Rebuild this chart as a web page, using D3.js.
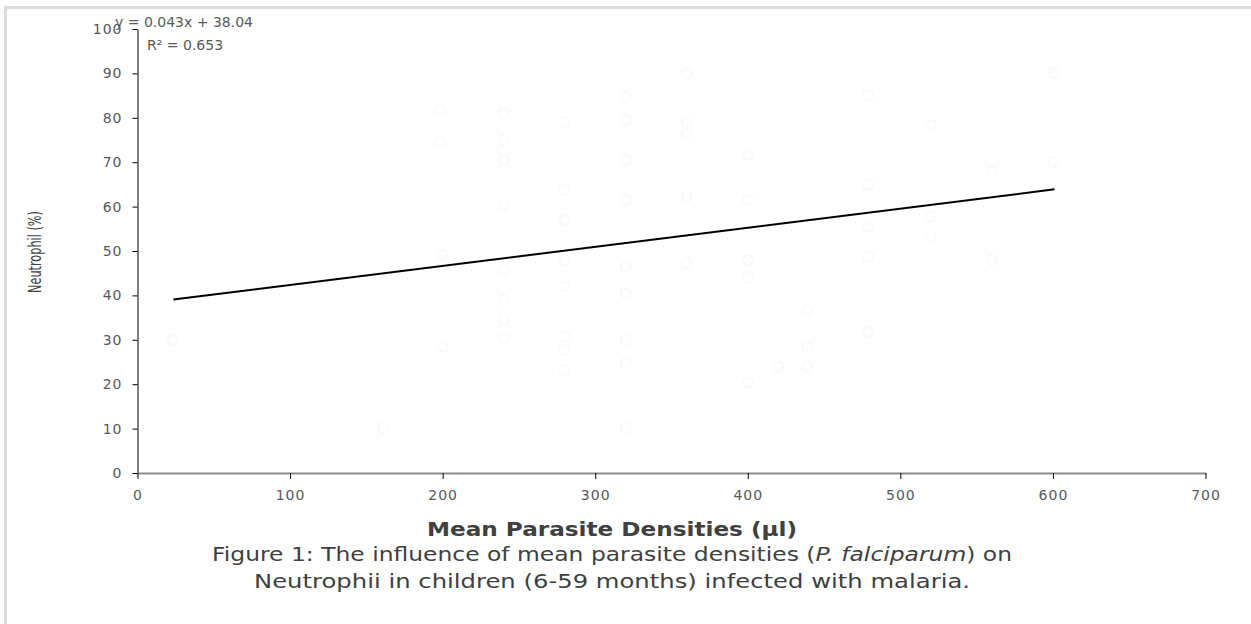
<!DOCTYPE html>
<html>
<head>
<meta charset="utf-8">
<title>Neutrophil vs parasite density</title>
<style>
    body { margin: 0; background: #fff; }
    svg { display: block; }
</style>
<script src="https://d3js.org/d3.v7.min.js"></script>
</head>
<body>
<script>
// scatter points (very faint in the original)
const densities = [23, 161, 198, 198, 200, 200, 240, 240, 240, 240, 240, 240, 240, 240,
    280, 280, 280, 280, 280, 280, 280, 280, 320, 320, 320, 320, 320, 320, 320, 320, 320,
    360, 360, 360, 360, 360, 400, 400, 400, 400, 400, 420, 439, 439, 439,
    479, 479, 479, 479, 479, 520, 520, 520, 560, 560, 600, 600];
const neutrophil = [30.0, 10.1, 81.8, 74.6, 49.1, 28.4, 81.1, 75.0, 70.5, 60.4, 45.7, 39.0, 34.5, 30.4,
    79.1, 63.7, 57.0, 48.0, 42.0, 30.7, 27.7, 23.2, 84.8, 79.5, 70.5, 61.5, 46.5, 40.5, 30.0, 24.8, 10.1,
    90.0, 78.8, 76.6, 62.2, 47.2, 71.6, 61.5, 48.0, 43.9, 20.3, 23.9, 36.7, 28.4, 23.9,
    85.1, 64.9, 55.5, 48.7, 31.8, 78.4, 57.7, 53.2, 67.9, 48.0, 90.1, 70.1];

const slope = 0.043, intercept = 38.04;
const trendRange = [23.5, 601];
const xTicks = [0, 100, 200, 300, 400, 500, 600, 700];
const yTicks = [0, 10, 20, 30, 40, 50, 60, 70, 80, 90, 100];

const W = 1251, H = 624;
const svg = d3.select('body').append('svg').attr('width', W).attr('height', H);

// light frame of the figure
svg.append('rect').attr('x', 5.5).attr('y', 7.5).attr('width', W + 10).attr('height', H + 10)
    .attr('fill', 'none').attr('stroke', '#dcdcdc').attr('stroke-width', 3);

const x = d3.scaleLinear().domain([0, 700]).range([137.5, 1205.5]);
const y = d3.scaleLinear().domain([0, 100]).range([473, 29]);

// points
svg.append('g').selectAll('circle')
    .data(densities.map((d, i) => [d, neutrophil[i]]))
    .join('circle')
    .attr('cx', d => x(d[0]))
    .attr('cy', d => y(d[1]))
    .attr('r', 5)
    .attr('fill', 'none')
    .attr('stroke', '#f8f8f8')
    .attr('stroke-width', 1.5);

function styleTicks(g) {
    g.selectAll('.tick text')
        .attr('font-family', '"DejaVu Sans", sans-serif')
        .attr('font-size', 14)
        .attr('letter-spacing', 1)
        .attr('fill', '#595959');
    g.selectAll('.tick line').attr('stroke', '#000');
}

// y axis
const yAxis = svg.append('g').attr('transform', 'translate(137.5,0)')
    .call(d3.axisLeft(y).tickValues(yTicks).tickSize(5).tickPadding(10).tickSizeOuter(0))
    .call(styleTicks);
yAxis.select('.domain').attr('stroke', '#000');

// x axis
const xAxis = svg.append('g').attr('transform', 'translate(0,473)')
    .call(d3.axisBottom(x).tickValues(xTicks).tickSize(6).tickPadding(11).tickSizeOuter(0))
    .call(styleTicks);
xAxis.select('.domain').attr('stroke', '#8c8c8c').attr('stroke-width', 2);

// trendline
svg.append('line')
    .attr('x1', x(trendRange[0])).attr('y1', y(slope * trendRange[0] + intercept))
    .attr('x2', x(trendRange[1])).attr('y2', y(slope * trendRange[1] + intercept))
    .attr('stroke', '#000').attr('stroke-width', 2);

// equation (overlaps the 100 label, as in the original)
svg.append('text').attr('x', 115).attr('y', 27)
    .attr('font-family', '"DejaVu Sans", sans-serif').attr('font-size', 14).attr('fill', '#595959')
    .text('y = 0.043x + 38.04');
svg.append('text').attr('x', 147).attr('y', 50)
    .attr('font-family', '"DejaVu Sans", sans-serif').attr('font-size', 14).attr('fill', '#595959')
    .text('R² = 0.653');

// axis titles
svg.append('text')
    .attr('transform', 'translate(41,252) rotate(-90)')
    .attr('text-anchor', 'middle')
    .attr('font-family', '"DejaVu Sans", sans-serif')
    .attr('font-size', 17).attr('fill', '#404040')
    .attr('textLength', 82).attr('lengthAdjust', 'spacingAndGlyphs')
    .text('Neutrophil (%)');

svg.append('text').attr('x', 612).attr('y', 536)
    .attr('text-anchor', 'middle')
    .attr('font-family', '"DejaVu Sans", sans-serif').attr('font-weight', 'bold')
    .attr('font-size', 20).attr('fill', '#404040')
    .attr('textLength', 370).attr('lengthAdjust', 'spacingAndGlyphs')
    .text('Mean Parasite Densities (µl)');

const capFont = '"DejaVu Sans", sans-serif';
const l1 = svg.append('text').attr('x', 612).attr('y', 561)
    .attr('text-anchor', 'middle')
    .attr('font-family', capFont).attr('font-size', 19).attr('fill', '#404040')
    .attr('textLength', 800).attr('lengthAdjust', 'spacingAndGlyphs');
l1.append('tspan').text('Figure 1: The influence of mean parasite densities (');
l1.append('tspan').attr('font-style', 'italic').text('P. falciparum');
l1.append('tspan').text(') on');
svg.append('text').attr('x', 612).attr('y', 588)
    .attr('text-anchor', 'middle')
    .attr('font-family', capFont).attr('font-size', 19).attr('fill', '#404040')
    .attr('textLength', 716).attr('lengthAdjust', 'spacingAndGlyphs')
    .text('Neutrophii in children (6-59 months) infected with malaria.');
</script>
</body>
</html>
